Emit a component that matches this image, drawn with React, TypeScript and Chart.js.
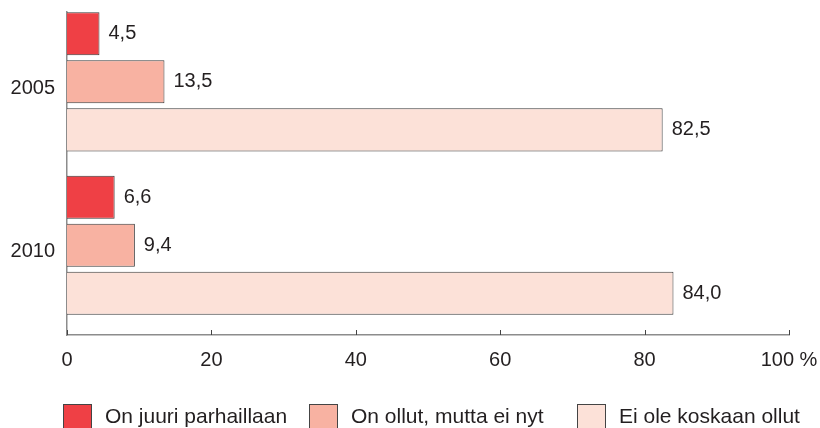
import React, { useEffect, useRef } from "react";
import { Chart, registerables } from "chart.js";

Chart.register(...registerables);

const categories = ["2005", "2010"];
const seriesNames = ["On juuri parhaillaan", "On ollut, mutta ei nyt", "Ei ole koskaan ollut"];
const seriesCurrent = [4.5, 6.6];
const seriesPast = [13.5, 9.4];
const seriesNever = [82.5, 84.0];
const seriesColors = ["#EF4045", "#F8B2A2", "#FCE1D8"];
const xTicks = [0, 20, 40, 60, 80, 100];

const FONT = "'Liberation Sans', Arial, Helvetica, sans-serif";
const TEXT = "#231f20";
const AXIS = "#8c8c8c";
const LEGEND_X = [63, 309, 577];

const fmt = (v: number) => v.toFixed(1).replace(".", ",");

const valueLabels = {
  id: "valueLabels",
  afterDatasetsDraw(chart: any) {
    const ctx = chart.ctx;
    ctx.save();
    ctx.font = `20px ${FONT}`;
    ctx.fillStyle = TEXT;
    ctx.textAlign = "left";
    ctx.textBaseline = "middle";
    chart.data.datasets.forEach((ds: any, i: number) => {
      const meta = chart.getDatasetMeta(i);
      meta.data.forEach((el: any, j: number) => {
        const v = ds.data[j].x;
        ctx.fillText(fmt(v), el.x + 9, el.y);
      });
    });
    ctx.restore();
  },
};

const axisTicks = {
  id: "axisTicks",
  afterDraw(chart: any) {
    const ctx = chart.ctx;
    const xs = chart.scales.x;
    const bottom = chart.chartArea.bottom;
    ctx.save();
    ctx.strokeStyle = "#444";
    ctx.lineWidth = 1;
    xs.ticks.forEach((t: any) => {
      const px = Math.round(xs.getPixelForValue(t.value)) + 0.5;
      ctx.beginPath();
      ctx.moveTo(px, bottom);
      ctx.lineTo(px, bottom - 5);
      ctx.stroke();
    });
    ctx.restore();
  },
};

const customLegend = {
  id: "customLegend",
  afterDraw(chart: any) {
    const ctx = chart.ctx;
    ctx.save();
    ctx.font = `21px ${FONT}`;
    ctx.textAlign = "left";
    ctx.textBaseline = "middle";
    chart.data.datasets.forEach((ds: any, i: number) => {
      const x = LEGEND_X[i];
      const y = 404;
      ctx.fillStyle = ds.backgroundColor;
      ctx.fillRect(x, y, 29, 29);
      ctx.strokeStyle = "#444";
      ctx.lineWidth = 1;
      ctx.strokeRect(x + 0.5, y + 0.5, 28, 28);
      ctx.fillStyle = TEXT;
      ctx.fillText(ds.label, x + 42, 417);
    });
    ctx.restore();
  },
};

export default function App() {
  const ref = useRef<HTMLCanvasElement | null>(null);

  useEffect(() => {
    if (!ref.current) return;
    const allSeries = [seriesCurrent, seriesPast, seriesNever];
    const chart = new Chart(ref.current, {
      type: "bar",
      data: {
        datasets: allSeries.map((vals, i) => ({
          label: seriesNames[i],
          data: vals.map((v, j) => ({ x: v, y: j })),
          backgroundColor: seriesColors[i],
          borderColor: "#3a3a3a",
          borderWidth: 1,
          categoryPercentage: 0.882,
          barPercentage: 0.896,
        })),
      },
      options: {
        indexAxis: "y",
        animation: false,
        responsive: true,
        maintainAspectRatio: false,
        layout: { padding: { top: 12, right: 31, bottom: 53, left: 0 } },
        plugins: {
          legend: { display: false },
          tooltip: { enabled: false },
        },
        scales: {
          x: {
            type: "linear",
            min: 0,
            max: 100,
            offset: false,
            afterBuildTicks: (s: any) => {
              s.ticks = xTicks.map((v) => ({ value: v }));
            },
            afterFit: (s: any) => {
              s.height = 40;
              s.paddingLeft = 0;
              s.paddingRight = 0;
            },
            grid: { display: false, drawTicks: false },
            border: { display: true, color: AXIS, width: 1.5 },
            ticks: {
              padding: 13,
              color: TEXT,
              font: { family: FONT, size: 20 },
              maxRotation: 0,
              callback: (v: any) => (v === 100 ? "100 %" : String(v)),
            },
          },
          y: {
            type: "linear",
            min: -0.427,
            max: 1.549,
            reverse: true,
            offset: false,
            afterBuildTicks: (s: any) => {
              s.ticks = categories.map((_, i) => ({ value: i }));
            },
            afterFit: (s: any) => {
              s.width = 67;
              s.paddingTop = 0;
              s.paddingBottom = 0;
            },
            grid: { display: false, drawTicks: false, offset: false },
            border: { display: true, color: AXIS, width: 1.5 },
            ticks: {
              padding: 12,
              labelOffset: 6.5,
              color: TEXT,
              font: { family: FONT, size: 20 },
              callback: (v: any) => categories[v] ?? "",
            },
          },
        },
      },
      plugins: [valueLabels, axisTicks, customLegend],
    } as any);
    return () => chart.destroy();
  }, []);

  return (
    <div style={{ position: "absolute", left: 0, top: 0, width: 820, height: 428, overflow: "hidden" }}>
      <canvas ref={ref} />
    </div>
  );
}
